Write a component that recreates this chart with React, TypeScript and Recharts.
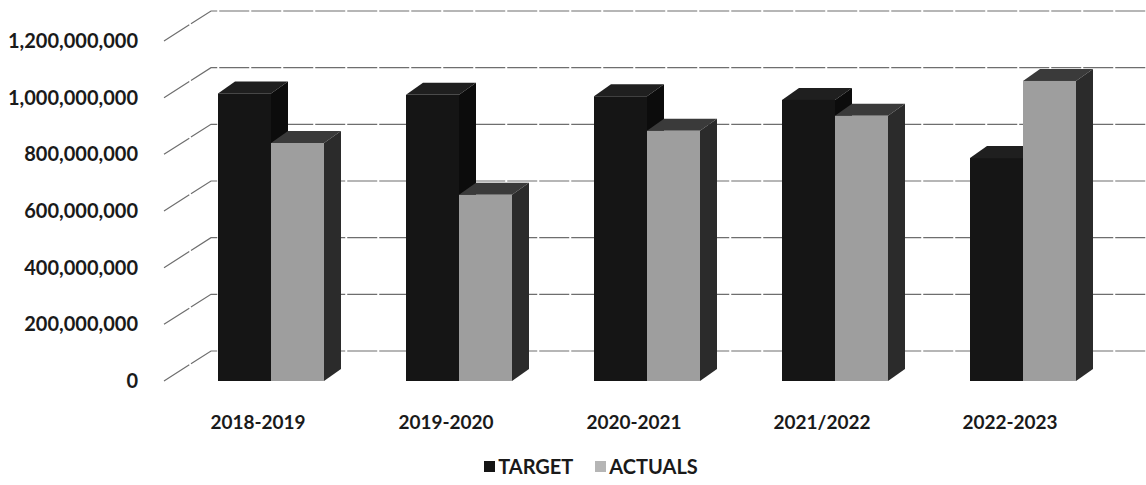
import { BarChart, Bar, XAxis, YAxis, CartesianGrid, Legend } from 'recharts';

const years = ['2018-2019', '2019-2020', '2020-2021', '2021/2022', '2022-2023'];
const target = [1015000000, 1010000000, 1005000000, 992000000, 787000000];
const actuals = [840000000, 657000000, 883000000, 936000000, 1059000000];
const yTicks = [0, 200000000, 400000000, 600000000, 800000000, 1000000000, 1200000000];

const data = years.map((year, i) => ({ year, target: target[i], actuals: actuals[i] }));

const FONT = 'Lato, "Open Sans", sans-serif';
const DEPTH_X = 17;
const DEPTH_Y = 12;
const SHIFT = 13;

function make3DBar(front: string, top: string, side: string) {
  return (props: any) => {
    const { x, y, width, height } = props;
    if (height == null || height <= 0) return <g />;
    const x0 = x + SHIFT;
    const x1 = x0 + width;
    const bottom = y + height;
    return (
      <g>
        <polygon
          points={`${x0},${y} ${x1},${y} ${x1 + DEPTH_X},${y - DEPTH_Y} ${x0 + DEPTH_X},${y - DEPTH_Y}`}
          fill={top}
        />
        <polygon
          points={`${x1},${y} ${x1 + DEPTH_X},${y - DEPTH_Y} ${x1 + DEPTH_X},${bottom - DEPTH_Y} ${x1},${bottom}`}
          fill={side}
        />
        <rect x={x0} y={y} width={width} height={height} fill={front} />
      </g>
    );
  };
}

const BackGridLine = (props: any) => {
  const { x1, y1 } = props;
  return (
    <polyline
      key={`g-${y1}`}
      points={`${x1},${y1} ${x1 + 47},${y1 - 30} ${1146},${y1 - 30}`}
      fill="none"
      stroke="#6e6e6e"
      strokeWidth={1.2}
      strokeDasharray="30 2"
    />
  );
};

const YTick = (props: any) => {
  const { x, y, payload } = props;
  return (
    <text
      x={x - 18}
      y={y}
      dy={7}
      textAnchor="end"
      fontFamily={FONT}
      fontWeight={700}
      fontSize={20}
      fill="#1a1a1a"
    >
      {payload.value.toLocaleString('en-US')}
    </text>
  );
};

const XTick = (props: any) => {
  const { x, y, payload } = props;
  return (
    <text
      x={x}
      y={y}
      dy={40}
      textAnchor="middle"
      fontFamily={FONT}
      fontWeight={700}
      fontSize={19}
      fill="#1a1a1a"
    >
      {payload.value}
    </text>
  );
};

const LegendContent = () => (
  <div
    style={{
      display: 'flex',
      justifyContent: 'center',
      alignItems: 'center',
      fontFamily: FONT,
      fontWeight: 700,
      fontSize: 20,
      color: '#1a1a1a',
      paddingLeft: 74,
      paddingTop: 7,
    }}
  >
    <span style={{ display: 'inline-block', width: 11, height: 11, background: '#151515', marginRight: 3 }} />
    <span style={{ marginRight: 22 }}>TARGET</span>
    <span style={{ display: 'inline-block', width: 11, height: 11, background: '#b5b5b5', marginRight: 3 }} />
    <span>ACTUALS</span>
  </div>
);

export default function App() {
  return (
    <div style={{ position: 'absolute', left: 0, top: 0, width: 1146, height: 485, background: '#fff' }}>
      <BarChart
        width={1146}
        height={485}
        data={data}
        margin={{ top: 41, right: 42, left: 4, bottom: 0 }}
        barSize={53}
        barGap={0}
      >
        <CartesianGrid vertical={false} horizontal={BackGridLine} />
        <XAxis
          dataKey="year"
          axisLine={false}
          tickLine={false}
          tick={XTick}
          height={66}
          interval={0}
        />
        <YAxis
          domain={[0, 1200000000]}
          ticks={yTicks}
          axisLine={false}
          tickLine={false}
          tick={YTick}
          width={160}
        />
        <Legend verticalAlign="bottom" height={38} content={LegendContent} />
        <Bar
          dataKey="target"
          name="TARGET"
          fill="#151515"
          shape={make3DBar('#151515', '#1f1f1f', '#0c0c0c')}
          isAnimationActive={false}
        />
        <Bar
          dataKey="actuals"
          name="ACTUALS"
          fill="#9c9c9c"
          shape={make3DBar('#9e9e9e', '#3a3a3a', '#2b2b2b')}
          isAnimationActive={false}
        />
      </BarChart>
    </div>
  );
}
